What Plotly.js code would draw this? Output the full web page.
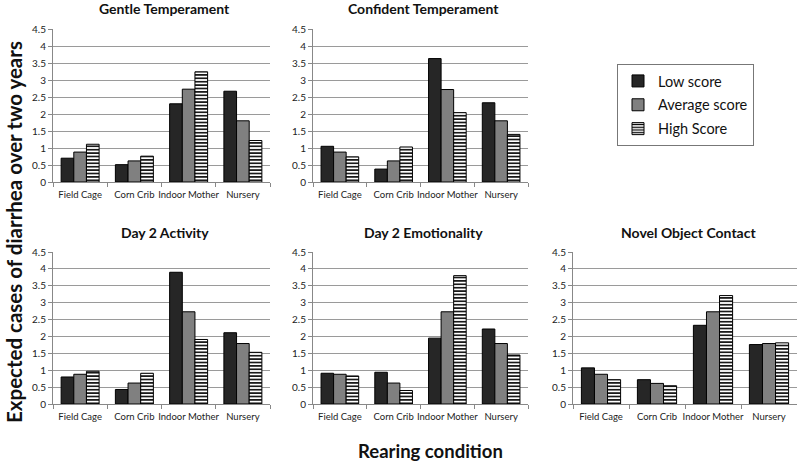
<!DOCTYPE html>
<html>
<head>
<meta charset="utf-8">
<script src="https://cdn.plot.ly/plotly-3.0.1.min.js"></script>
<style>
    html, body {margin: 0; padding: 0; background: #fff;}
    #chart {width: 800px; height: 462px;}
</style>
</head>
<body>
<div id="chart"></div>
<script>
const categories = ["Field Cage", "Corn Crib", "Indoor Mother", "Nursery"];
const seriesNames = ["Low score", "Average score", "High Score"];
const panelTitles = ["Gentle Temperament", "Confident Temperament", "Day 2 Activity", "Day 2 Emotionality", "Novel Object Contact"];

const gentleLow = [0.70, 0.51, 2.30, 2.67];
const gentleAvg = [0.88, 0.62, 2.73, 1.80];
const gentleHigh = [1.11, 0.76, 3.24, 1.22];

const confidentLow = [1.05, 0.38, 3.63, 2.33];
const confidentAvg = [0.88, 0.62, 2.72, 1.80];
const confidentHigh = [0.74, 1.03, 2.04, 1.40];

const activityLow = [0.80, 0.43, 3.90, 2.11];
const activityAvg = [0.88, 0.62, 2.73, 1.79];
const activityHigh = [0.97, 0.91, 1.91, 1.53];

const emotionLow = [0.91, 0.94, 1.95, 2.22];
const emotionAvg = [0.88, 0.62, 2.73, 1.79];
const emotionHigh = [0.83, 0.40, 3.80, 1.45];

const novelLow = [1.07, 0.72, 2.33, 1.76];
const novelAvg = [0.88, 0.61, 2.73, 1.79];
const novelHigh = [0.72, 0.54, 3.21, 1.81];

const panels = [
    [gentleLow, gentleAvg, gentleHigh],
    [confidentLow, confidentAvg, confidentHigh],
    [activityLow, activityAvg, activityHigh],
    [emotionLow, emotionAvg, emotionHigh],
    [novelLow, novelAvg, novelHigh]
];

const fontFamily = "Lato, 'Open Sans', sans-serif";

function seriesMarker(i) {
    if (i === 0) return {color: "#262626", line: {color: "#000", width: 1}};
    if (i === 1) return {color: "#808080", line: {color: "#000", width: 1}};
    return {
        color: "#fff",
        line: {color: "#000", width: 1},
        pattern: {shape: "-", fgcolor: "#000", bgcolor: "#fff", size: 3.4, solidity: 0.45}
    };
}

// pixel boxes of the five plot areas (left, right, top, bottom)
const boxes = [
    [53, 270, 29, 182],
    [313, 528, 29, 182],
    [53, 270, 252, 404],
    [313, 528, 252, 404],
    [573, 797, 252, 404]
];
const W = 800, H = 462;

const traces = [];
panels.forEach((series, p) => {
    const suffix = p === 0 ? "" : String(p + 1);
    series.forEach((vals, i) => {
        traces.push({
            x: categories,
            y: vals,
            type: "bar",
            name: seriesNames[i],
            legendgroup: seriesNames[i],
            showlegend: p === 0,
            marker: seriesMarker(i),
            xaxis: "x" + suffix,
            yaxis: "y" + suffix,
            hoverinfo: "skip"
        });
    });
});

const layout = {
    width: W,
    height: H,
    margin: {t: 0, r: 0, b: 0, l: 0},
    paper_bgcolor: "#fff",
    plot_bgcolor: "#fff",
    font: {family: fontFamily, color: "#222", size: 10},
    barmode: "group",
    bargap: 0.3,
    bargroupgap: 0,
    legend: {
        x: 617 / W, y: 1 - 64 / H,
        xanchor: "left", yanchor: "top",
        bordercolor: "#777", borderwidth: 1,
        font: {size: 14.5, family: fontFamily, color: "#111"},
        tracegroupgap: 2,
        itemwidth: 30
    },
    annotations: []
};

boxes.forEach((b, p) => {
    const suffix = p === 0 ? "" : String(p + 1);
    layout["xaxis" + suffix] = {
        domain: [b[0] / W, b[1] / W],
        anchor: "y" + suffix,
        showline: true,
        linecolor: "#888",
        ticks: "outside",
        tickson: "boundaries",
        ticklen: 4,
        tickcolor: "#888",
        tickangle: 0,
        ticklabelstandoff: 4,
        tickfont: {size: 9.5, color: "#222"},
        showgrid: false,
        fixedrange: true
    };
    layout["yaxis" + suffix] = {
        domain: [1 - b[3] / H, 1 - b[2] / H],
        anchor: "x" + suffix,
        range: [0, 4.5],
        dtick: 0.5,
        showline: true,
        linecolor: "#888",
        ticks: "outside",
        ticklen: 4,
        tickcolor: "#888",
        showgrid: true,
        gridcolor: "#9a9a9a",
        zeroline: false,
        tickfont: {size: 10, color: "#222"},
        fixedrange: true
    };
    layout.annotations.push({
        text: "<b>" + panelTitles[p] + "</b>",
        xref: "paper", yref: "paper",
        x: (b[0] + b[1]) / 2 / W + 0.004,
        y: 1 - (p < 2 ? 9 : 233) / H,
        xanchor: "center", yanchor: "middle",
        showarrow: false,
        font: {size: 14, color: "#111", family: fontFamily}
    });
});

layout.annotations.push({
    text: "<b>Expected cases of diarrhea over two years</b>",
    xref: "paper", yref: "paper",
    x: 14 / W, y: 1 - 232 / H,
    xanchor: "center", yanchor: "middle",
    textangle: -90,
    showarrow: false,
    font: {size: 20.5, color: "#111", family: fontFamily}
});
layout.annotations.push({
    text: "<b>Rearing condition</b>",
    xref: "paper", yref: "paper",
    x: 430 / W, y: 1 - 451 / H,
    xanchor: "center", yanchor: "middle",
    showarrow: false,
    font: {size: 18.5, color: "#111", family: fontFamily}
});

Plotly.newPlot("chart", traces, layout, {displayModeBar: false, staticPlot: true});
</script>
</body>
</html>
